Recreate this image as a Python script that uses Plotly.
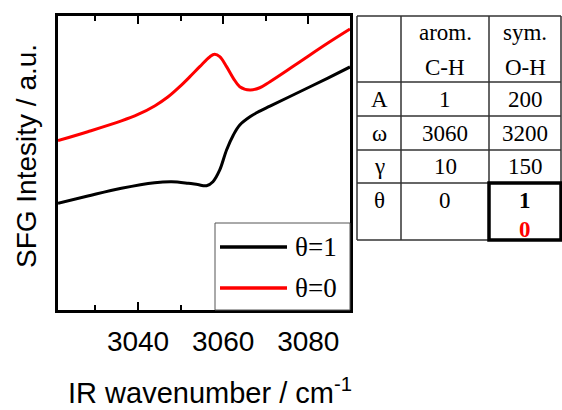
import plotly.graph_objects as go

# ---- data ----
wn_theta1 = [3021.2, 3028.2, 3036.1, 3043.9, 3047.9, 3051.8, 3054.0, 3056.1, 3057.6,
             3059.2, 3060.8, 3062.4, 3063.9, 3066.3, 3068.6, 3071.0, 3076.9, 3084.6, 3089.8]
sfg_theta1 = [1.089, 1.163, 1.242, 1.299, 1.309, 1.293, 1.280, 1.268, 1.309,
              1.429, 1.633, 1.786, 1.888, 1.972, 2.030, 2.080, 2.204, 2.367, 2.480]

wn_theta0 = [3021.2, 3028.2, 3036.1, 3040.0, 3044.0, 3047.0, 3049.8, 3052.2, 3054.5, 3056.9,
             3058.0, 3059.2, 3060.8, 3062.4, 3063.9, 3066.3, 3068.6, 3071.0, 3076.9,
             3084.6, 3089.8]
sfg_theta0 = [1.728, 1.819, 1.929, 1.995, 2.085, 2.173, 2.279, 2.381, 2.483, 2.585,
              2.609, 2.585, 2.483, 2.364, 2.279, 2.245, 2.268, 2.330, 2.500,
              2.724, 2.867]

legend_labels = ["θ=1", "θ=0"]
colors = ["black", "red"]

table_col_heads = [["arom.", "C-H"], ["sym.", "O-H"]]
table_row_labels = ["A", "ω", "γ", "θ"]
table_col1 = ["1", "3060", "10", "0"]
table_col2 = ["200", "3200", "150", None]
theta_col2 = ["1", "0"]

xtick_vals = [3040, 3060, 3080]

# ---- layout geometry (pixels) ----
W, H = 562, 410
L, R, T, B = 58, 350, 16, 310
PW, PH = R - L, B - T


def px(x):
    return (x - L) / PW


def py(y):
    return (B - y) / PH


SERIF = "Liberation Serif"
SANS = "Liberation Sans"

fig = go.Figure()
fig.add_trace(go.Scatter(x=wn_theta1, y=sfg_theta1, mode="lines", name=legend_labels[0],
                         line=dict(color=colors[0], width=3, shape="spline", smoothing=1.0),
                         showlegend=False))
fig.add_trace(go.Scatter(x=wn_theta0, y=sfg_theta0, mode="lines", name=legend_labels[1],
                         line=dict(color=colors[1], width=3, shape="spline", smoothing=1.0),
                         showlegend=False))

shapes = []
annotations = []

# legend box (manual)
shapes.append(dict(type="rect", xref="paper", yref="paper", x0=px(215), x1=px(350),
                   y0=py(310), y1=py(223), line=dict(color="#555555", width=1),
                   fillcolor="white", layer="above"))
for i, (lab, col) in enumerate(zip(legend_labels, colors)):
    yy = 247 + i * 41
    shapes.append(dict(type="line", xref="paper", yref="paper", x0=px(220), x1=px(287),
                       y0=py(yy), y1=py(yy), line=dict(color=col, width=3.5), layer="above"))
    annotations.append(dict(xref="paper", yref="paper", x=px(293), y=py(yy), text=lab,
                            showarrow=False, xanchor="left", yanchor="middle",
                            font=dict(family=SERIF, size=27, color="black")))

# axis titles
annotations.append(dict(xref="paper", yref="paper", x=px(210), y=py(391),
                        text="IR wavenumber / cm<sup>-1</sup>", showarrow=False,
                        xanchor="center", yanchor="middle",
                        font=dict(family=SANS, size=29, color="black")))
annotations.append(dict(xref="paper", yref="paper", x=px(26), y=py(156),
                        text="SFG Intesity / a.u.", showarrow=False, textangle=-90,
                        xanchor="center", yanchor="middle",
                        font=dict(family=SANS, size=28, color="black")))

# ---- table ----
col_x = [357, 401, 489, 561]
row_y = [16, 82, 116, 150, 183, 240]
lc = "#333333"
for x in col_x:
    shapes.append(dict(type="line", xref="paper", yref="paper", x0=px(x), x1=px(x),
                       y0=py(row_y[0]), y1=py(row_y[-1]), line=dict(color=lc, width=1.5)))
for y in row_y:
    shapes.append(dict(type="line", xref="paper", yref="paper", x0=px(col_x[0]), x1=px(col_x[-1]),
                       y0=py(y), y1=py(y), line=dict(color=lc, width=1.5)))
# thick box around O-H theta cell
shapes.append(dict(type="rect", xref="paper", yref="paper", x0=px(489), x1=px(561),
                   y0=py(240), y1=py(183), line=dict(color="black", width=3.5)))

tf = dict(family=SERIF, size=23, color="black")
col_cx = [(col_x[i] + col_x[i + 1]) / 2 for i in range(3)]
for j, head in enumerate(table_col_heads):
    for k, t in enumerate(head):
        annotations.append(dict(xref="paper", yref="paper", x=px(col_cx[j + 1]), y=py(33 + 34 * k),
                                text=t, showarrow=False, xanchor="center", yanchor="middle", font=tf))
row_cy = [99, 133, 166, 200]
for i, lab in enumerate(table_row_labels):
    annotations.append(dict(xref="paper", yref="paper", x=px(col_cx[0]), y=py(row_cy[i]),
                            text=lab, showarrow=False, xanchor="center", yanchor="middle", font=tf))
    annotations.append(dict(xref="paper", yref="paper", x=px(col_cx[1]), y=py(row_cy[i]),
                            text=table_col1[i], showarrow=False, xanchor="center", yanchor="middle", font=tf))
    if table_col2[i] is not None:
        annotations.append(dict(xref="paper", yref="paper", x=px(col_cx[2]), y=py(row_cy[i]),
                                text=table_col2[i], showarrow=False, xanchor="center", yanchor="middle", font=tf))
annotations.append(dict(xref="paper", yref="paper", x=px(col_cx[2]), y=py(200),
                        text="<b>" + theta_col2[0] + "</b>", showarrow=False,
                        xanchor="center", yanchor="middle", font=tf))
annotations.append(dict(xref="paper", yref="paper", x=px(col_cx[2]), y=py(229),
                        text="<b>" + theta_col2[1] + "</b>", showarrow=False,
                        xanchor="center", yanchor="middle",
                        font=dict(family=SERIF, size=23, color="red")))

fig.update_layout(
    width=W, height=H,
    margin=dict(l=L, r=W - R, t=T, b=H - B, pad=0),
    paper_bgcolor="white", plot_bgcolor="white",
    shapes=shapes, annotations=annotations,
    xaxis=dict(range=[3021.2, 3089.8], tickvals=xtick_vals, ticks="inside", ticklen=8,
               tickwidth=2, tickcolor="black", showline=True, linewidth=2.5, linecolor="black",
               mirror="ticks", showgrid=False, zeroline=False, ticklabelstandoff=5,
               tickfont=dict(family=SANS, size=28, color="black"),
               minor=dict(dtick=10, tick0=3030, ticks="inside", ticklen=5, tickwidth=2,
                          tickcolor="black", showgrid=False)),
    yaxis=dict(range=[0, 3], showticklabels=False, ticks="", showline=True, linewidth=2.5,
               linecolor="black", mirror=True, showgrid=False, zeroline=False),
)

fig.write_html("out.html", post_script="document.body.style.margin='0px';",
               config={"displayModeBar": False})
